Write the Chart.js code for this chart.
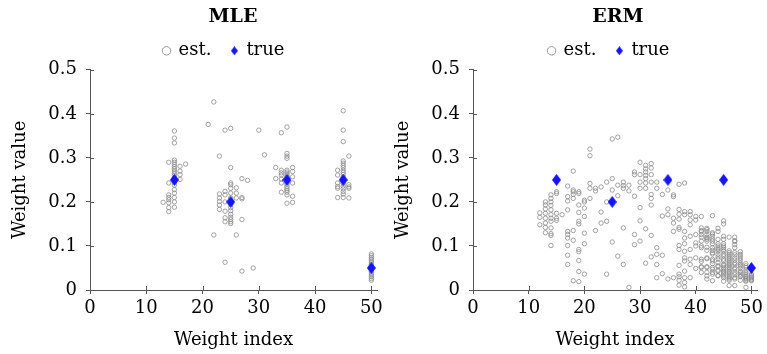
<!DOCTYPE html>
<html>
<head>
<meta charset="utf-8">
<script src="https://cdn.jsdelivr.net/npm/chart.js@4/dist/chart.umd.min.js"></script>
<style>
  html, body { margin: 0; padding: 0; background: #fff; overflow: hidden; }
  body { width: 767px; height: 354px; position: relative; }
  .panel { position: absolute; top: 0; height: 354px; }
  #mlePanel { left: 0; width: 466px; }
  #ermPanel { left: 383px; width: 470px; }
</style>
</head>
<body>
<div class="panel" id="mlePanel"><canvas id="mleChart"></canvas></div>
<div class="panel" id="ermPanel"><canvas id="ermChart"></canvas></div>
<script>
// tick values shared by both panels
const xTicks = [0, 10, 20, 30, 40, 50];
const yTicks = [0, 0.1, 0.2, 0.3, 0.4, 0.5];

// true weights (same in both panels)
const trueIndex = [15, 25, 35, 45, 50];
const trueValue = [0.25, 0.2, 0.25, 0.25, 0.05];

// MLE estimates, grouped by weight index
const mleIndex = [13, 14, 15, 16, 17, 21, 22, 23, 24, 25, 26, 27, 28, 29, 30, 31, 33, 34, 35, 36, 44, 45, 46, 50];
const mleValues = [
  [0.199],
  [0.29, 0.243, 0.216, 0.21, 0.205, 0.198, 0.187, 0.178],
  [0.361, 0.345, 0.334, 0.295, 0.29, 0.285, 0.28, 0.275, 0.27, 0.265, 0.26, 0.255, 0.245, 0.238, 0.228, 0.22, 0.21, 0.2, 0.188],
  [0.281, 0.27, 0.262, 0.251],
  [0.286],
  [0.376],
  [0.427, 0.125],
  [0.304, 0.218, 0.209, 0.201, 0.193, 0.183],
  [0.363, 0.224, 0.216, 0.2, 0.179, 0.164, 0.155, 0.063],
  [0.367, 0.278, 0.243, 0.239, 0.231, 0.22, 0.209, 0.195, 0.187, 0.18, 0.172, 0.165, 0.16, 0.155, 0.151],
  [0.232, 0.22, 0.209, 0.125],
  [0.253, 0.21, 0.207, 0.16, 0.043],
  [0.249],
  [0.05],
  [0.363],
  [0.307],
  [0.278, 0.253],
  [0.357, 0.272, 0.266, 0.261, 0.252, 0.243, 0.222],
  [0.37, 0.31, 0.304, 0.299, 0.272, 0.268, 0.264, 0.26, 0.256, 0.252, 0.245, 0.24, 0.235, 0.23, 0.226, 0.222, 0.216, 0.197],
  [0.278, 0.269, 0.257, 0.243, 0.213, 0.199],
  [0.272, 0.261, 0.243, 0.235, 0.231, 0.21],
  [0.407, 0.363, 0.337, 0.293, 0.288, 0.283, 0.278, 0.272, 0.267, 0.262, 0.256, 0.248, 0.242, 0.236, 0.23, 0.224, 0.218, 0.21],
  [0.304, 0.239, 0.234, 0.231, 0.209],
  [0.082, 0.078, 0.074, 0.07, 0.066, 0.062, 0.058, 0.054, 0.046, 0.042, 0.038, 0.034, 0.03, 0.026, 0.022]
];

// ERM estimates, grouped by weight index
const ermIndex = [12, 13, 14, 15, 16, 17, 18, 19, 20, 21, 22, 23, 24, 25, 26, 27, 28, 29, 30, 31, 32, 33, 34, 35, 36, 37, 38, 39, 40, 41, 42, 43, 44, 45, 46, 47, 48, 49, 50];
const ermValues = [
  [0.175, 0.165, 0.148],
  [0.2, 0.193, 0.184, 0.174, 0.163, 0.152, 0.142, 0.13],
  [0.216, 0.208, 0.2, 0.192, 0.182, 0.171, 0.163, 0.156, 0.141, 0.128, 0.124, 0.101],
  [0.223, 0.219, 0.174, 0.163, 0.158],
  [0.171],
  [0.236, 0.212, 0.202, 0.182, 0.133, 0.126, 0.118, 0.101, 0.079, 0.058],
  [0.27, 0.227, 0.223, 0.217, 0.208, 0.135, 0.113, 0.021],
  [0.223, 0.219, 0.193, 0.176, 0.156, 0.15, 0.092, 0.087, 0.067, 0.042, 0.019],
  [0.204, 0.2, 0.186, 0.167, 0.129, 0.105, 0.036],
  [0.32, 0.305, 0.242, 0.231, 0.208],
  [0.231, 0.225, 0.135],
  [0.234, 0.177, 0.152],
  [0.245, 0.2, 0.156, 0.036],
  [0.343, 0.253, 0.227, 0.2, 0.109],
  [0.347, 0.238, 0.214, 0.077],
  [0.245, 0.237, 0.231, 0.141, 0.058],
  [0.238, 0.225, 0.006],
  [0.268, 0.262, 0.213, 0.126, 0.103],
  [0.29, 0.262, 0.245, 0.231, 0.187, 0.157, 0.111],
  [0.283, 0.275, 0.268, 0.26, 0.253, 0.243, 0.231, 0.139, 0.061],
  [0.287, 0.277, 0.262, 0.245, 0.217, 0.208, 0.193, 0.124, 0.075],
  [0.245, 0.231, 0.096, 0.081, 0.058, 0.028],
  [0.217, 0.168, 0.079, 0.037],
  [0.227, 0.184, 0.171, 0.025],
  [0.216, 0.212, 0.163, 0.152, 0.133, 0.028],
  [0.24, 0.183, 0.172, 0.161, 0.142, 0.138, 0.101, 0.092, 0.056, 0.036, 0.03, 0.022, 0.011],
  [0.243, 0.178, 0.171, 0.133, 0.118, 0.105, 0.088, 0.073, 0.066, 0.043, 0.028, 0.017, 0.007],
  [0.178, 0.171, 0.159, 0.148, 0.122, 0.092, 0.07, 0.058, 0.028],
  [0.167, 0.159, 0.126, 0.107, 0.1, 0.073, 0.049],
  [0.167, 0.141, 0.135, 0.133, 0.126, 0.12, 0.111, 0.1, 0.096, 0.07, 0.065, 0.053, 0.051, 0.04],
  [0.14, 0.137, 0.133, 0.126, 0.12, 0.118, 0.115, 0.111, 0.097, 0.09, 0.073, 0.071, 0.053, 0.051, 0.04, 0.032, 0.025],
  [0.169, 0.13, 0.127, 0.122, 0.116, 0.111, 0.105, 0.096, 0.09, 0.085, 0.082, 0.07, 0.066, 0.06, 0.051, 0.047, 0.04, 0.036, 0.021],
  [0.14, 0.133, 0.115, 0.105, 0.1, 0.095, 0.092, 0.088, 0.081, 0.075, 0.07, 0.062, 0.055, 0.053, 0.045, 0.043, 0.033, 0.032],
  [0.157, 0.15, 0.122, 0.115, 0.105, 0.1, 0.096, 0.092, 0.088, 0.081, 0.077, 0.07, 0.066, 0.058, 0.055, 0.051, 0.047, 0.043, 0.04, 0.036, 0.032, 0.028, 0.02],
  [0.12, 0.089, 0.085, 0.081, 0.077, 0.073, 0.07, 0.066, 0.062, 0.058, 0.055, 0.051, 0.047, 0.043, 0.04, 0.036, 0.032, 0.028, 0.025, 0.022, 0.01],
  [0.12, 0.112, 0.11, 0.103, 0.096, 0.085, 0.08, 0.073, 0.068, 0.062, 0.058, 0.051, 0.047, 0.04, 0.035, 0.028, 0.025, 0.01],
  [0.087, 0.081, 0.077, 0.073, 0.068, 0.062, 0.058, 0.055, 0.05, 0.043, 0.04, 0.036, 0.032, 0.03, 0.022],
  [0.06, 0.055, 0.051, 0.045, 0.04, 0.036, 0.032, 0.03, 0.027, 0.025, 0.022, 0.02, 0.006],
  [0.036, 0.033, 0.03, 0.028, 0.025, 0.023, 0.021]
];

const axisColor = '#555';
const estColor = '#8c8c8c';
const trueColor = '#1414ff';

Chart.defaults.font.family = "'DejaVu Serif', serif";
Chart.defaults.font.size = 18;
Chart.defaults.color = '#000';

// pgfplots-style diamond (taller than wide)
function makeDiamond(w, h) {
  const c = document.createElement('canvas');
  c.width = w; c.height = h;
  const g = c.getContext('2d');
  g.fillStyle = trueColor;
  g.beginPath();
  g.moveTo(w / 2, 0); g.lineTo(w, h / 2); g.lineTo(w / 2, h); g.lineTo(0, h / 2);
  g.closePath();
  g.fill();
  return c;
}
const plotDiamond = makeDiamond(9, 12);
const legendDiamond = makeDiamond(7, 9);

function toPoints(index, values) {
  const pts = [];
  index.forEach((x, i) => values[i].forEach(y => pts.push({ x, y })));
  return pts;
}

// tick marks crossing the axis line (inner half)
const innerTicks = {
  id: 'innerTicks',
  afterDraw(chart) {
    const { ctx, chartArea, scales: { x, y } } = chart;
    ctx.save();
    ctx.strokeStyle = axisColor;
    ctx.lineWidth = 1;
    xTicks.forEach(v => {
      const px = Math.round(x.getPixelForValue(v)) + 0.5;
      ctx.beginPath(); ctx.moveTo(px, chartArea.bottom); ctx.lineTo(px, chartArea.bottom - 4); ctx.stroke();
    });
    yTicks.forEach(v => {
      const py = Math.round(y.getPixelForValue(v)) + 0.5;
      ctx.beginPath(); ctx.moveTo(chartArea.left, py); ctx.lineTo(chartArea.left + 4, py); ctx.stroke();
    });
    ctx.restore();
  }
};

// nudge the legend a little left of the plot centre, like the pgfplots legend
const legendShift = {
  id: 'legendShift',
  afterLayout(chart) {
    if (chart.legend && chart.legend.lineWidths) chart.legend.lineWidths[0] += 18;
  }
};

function makeChart(id, title, estPoints, padRight) {
  return new Chart(document.getElementById(id), {
    type: 'scatter',
    data: {
      datasets: [
        {
          label: 'est.',
          data: estPoints,
          pointStyle: 'circle',
          pointRadius: 2.2,
          pointBorderWidth: 0.8,
          borderColor: estColor,
          backgroundColor: 'rgba(0,0,0,0)',
          order: 1
        },
        {
          label: 'true',
          data: toPoints(trueIndex, trueValue.map(v => [v])),
          pointStyle: plotDiamond,
          borderColor: trueColor,
          backgroundColor: trueColor,
          order: 0
        }
      ]
    },
    options: {
      responsive: true,
      maintainAspectRatio: false,
      animation: false,
      events: [],
      layout: { padding: 0 },
      plugins: {
        tooltip: { enabled: false },
        title: {
          display: true,
          text: title,
          font: { size: 19, weight: 'bold' },
          padding: { top: 6, bottom: -7 }
        },
        legend: {
          display: true,
          labels: {
            usePointStyle: true,
            boxWidth: 6,
            boxHeight: 6,
            padding: 20,
            font: { size: 18 },
            sort: (a, b) => a.datasetIndex - b.datasetIndex,
            generateLabels(chart) {
              const items = Chart.defaults.plugins.legend.labels.generateLabels(chart);
              items.forEach(it => {
                if (it.datasetIndex === 1) it.pointStyle = legendDiamond;
                else { it.lineWidth = 0.9; it.strokeStyle = estColor; }
              });
              return items;
            }
          }
        }
      },
      scales: {
        x: {
          type: 'linear',
          min: 0,
          max: 51,
          afterBuildTicks: s => { s.ticks = xTicks.map(v => ({ value: v })); },
          afterFit: s => { s.height = 64; },
          grid: { display: true, drawOnChartArea: false, drawTicks: true, tickLength: 4, color: axisColor },
          border: { display: true, color: axisColor, width: 1 },
          ticks: { padding: 4, font: { size: 18 } },
          title: { display: true, text: 'Weight index', font: { size: 18 }, padding: { top: 0, bottom: 3 } }
        },
        y: {
          type: 'linear',
          min: 0,
          max: 0.5,
          afterBuildTicks: s => { s.ticks = yTicks.map(v => ({ value: v })); },
          afterFit: s => { s.width = 90; },
          grid: { display: true, drawOnChartArea: false, drawTicks: true, tickLength: 4, color: axisColor },
          border: { display: true, color: axisColor, width: 1 },
          ticks: { padding: 9, font: { size: 18 }, callback: v => String(v) },
          title: { display: true, text: 'Weight value', font: { size: 18 }, padding: { top: 10, bottom: 0 } }
        },
        // empty spacer on the right so the title centres over the plot
        spacer: {
          type: 'linear',
          position: 'right',
          display: true,
          grid: { display: false, drawTicks: false },
          border: { display: false },
          ticks: { display: false },
          afterFit: s => { s.width = padRight; }
        }
      }
    },
    plugins: [innerTicks, legendShift]
  });
}

makeChart('mleChart', 'MLE', toPoints(mleIndex, mleValues), 89);
makeChart('ermChart', 'ERM', toPoints(ermIndex, ermValues), 96);
</script>
</body>
</html>
